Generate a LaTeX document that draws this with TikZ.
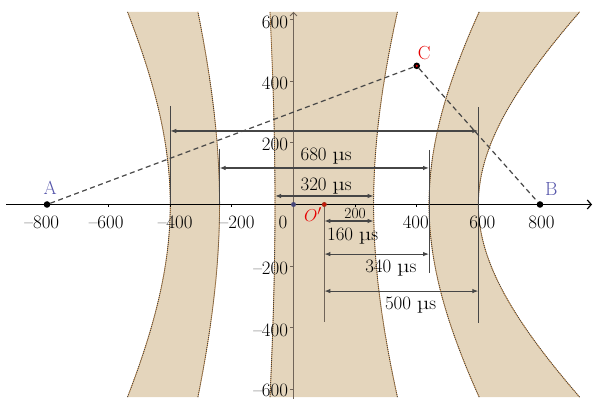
\documentclass[tikz,border=0pt]{standalone}
\usepackage{fontspec}
\usepackage{graphicx}
\usetikzlibrary{arrows.meta}
\definecolor{bandfill}{RGB}{228,213,188}
\definecolor{bandedge}{RGB}{215,150,75}
\definecolor{dimcol}{RGB}{70,70,70}
\definecolor{ptblue}{RGB}{85,85,170}
\definecolor{ptred}{RGB}{230,0,0}
\definecolor{yaxcol}{RGB}{112,100,88}
\definecolor{odot}{RGB}{70,70,120}
\definecolor{opdot}{RGB}{170,40,20}
\newcommand\musec{\scalebox{1.3}[1]{µ}s}
\begin{document}
\begin{tikzpicture}[x=30.81bp,y=30.81bp,
  hyp/.style={variable=\t, samples=70, smooth},
  up/.style={hyp, domain=-6.25:6.25},
  down/.style={hyp, domain=6.25:-6.25},
  ticklab/.style={font=\fontsize{19}{22}\selectfont, inner sep=0pt},
  dimlab/.style={font=\fontsize{19}{22}\selectfont, inner sep=0pt, anchor=base},
  dimline/.style={draw=dimcol, line width=1.1bp},
  dimarrow/.style={dimline, {Latex[length=6bp,width=4.5bp]}-{Latex[length=6bp,width=4.5bp]}},
  bandedgeA/.style={draw=bandedge, line width=0.7bp},
  bandedgeB/.style={draw=black!75, line width=0.9bp, dash pattern=on 0.9bp off 1.1bp},
  dashline/.style={draw=dimcol, line width=1.2bp, dash pattern=on 5bp off 3.5bp},
  pt/.style={circle, inner sep=0pt, minimum size=6.6bp, fill=black},
  smallpt/.style={circle, inner sep=0pt, minimum size=5bp}]
\useasboundingbox (-9.526,-6.313) rectangle (9.753,6.637);

% ---- bands (hyperbola branches, foci at -800 and 800) ----
\fill[bandfill] plot[up] ({-4*sqrt(1+\t*\t/48)},\t) -- plot[down] ({-2.4*sqrt(1+\t*\t/58.24)},\t) -- cycle;
\fill[bandfill] plot[up] ({-0.6*sqrt(1+\t*\t/63.64)},\t) -- plot[down] ({2.6*sqrt(1+\t*\t/57.24)},\t) -- cycle;
\fill[bandfill] plot[up] ({4.4*sqrt(1+\t*\t/44.64)},\t) -- plot[down] ({6*sqrt(1+\t*\t/28)},\t) -- cycle;
\foreach \a/\bb in {-4/48,-2.4/58.24,-0.6/63.64,2.6/57.24,4.4/44.64,6/28}{
  \draw[bandedgeA] plot[up] ({\a*sqrt(1+\t*\t/\bb)},\t);
  \draw[bandedgeB] plot[up] ({\a*sqrt(1+\t*\t/\bb)},\t);
}

% ---- axes ----
\coordinate (xs) at (-9.33,0);
\coordinate (xe) at (9.69,0);
\coordinate (ys) at (0,-6.32);
\coordinate (ye) at (0,6.25);
\draw[yaxcol, line width=0.8bp, -{Straight Barb[length=3.5bp,width=7bp]}] (ys) -- (ye);
\draw[black, line width=1.2bp, -{Straight Barb[length=4bp,width=9bp]}] (xs) -- (xe);
\foreach \v in {-8,-6,-4,-2,2,4,6,8}{\draw[black, line width=0.9bp] (\v,0) -- (\v,-0.08);}
\foreach \v in {-6,-4,-2,2,4,6}{\draw[yaxcol, line width=0.8bp] (0,\v) -- (-0.1,\v);}

% x tick labels
\node[ticklab, anchor=base] (xl1) at (-8.17,-0.77) {--800};
\node[ticklab, anchor=base] (xl2) at (-6.08,-0.77) {--600};
\node[ticklab, anchor=base] (xl3) at (-3.84,-0.77) {--400};
\node[ticklab, anchor=base] (xl4) at (-1.83,-0.77) {--200};
\node[ticklab, anchor=base] (xl5) at (-0.34,-0.77) {0};
\node[ticklab, anchor=base] (xl6) at (3.97,-0.77) {400};
\node[ticklab, anchor=base] (xl7) at (6.13,-0.77) {600};
\node[ticklab, anchor=base] (xl8) at (8.05,-0.77) {800};
\node[font=\fontsize{15.5}{18}\selectfont, inner sep=0pt, anchor=base] (xl9) at (2.0,-0.45) {200};
% y tick labels
\node[ticklab, anchor=base east] (yl1) at (-0.17,5.72) {600};
\node[ticklab, anchor=base east] (yl2) at (-0.17,3.74) {400};
\node[ticklab, anchor=base east] (yl3) at (-0.17,1.76) {200};
\node[ticklab, anchor=base east] (yl4) at (-0.17,-2.27) {--200};
\node[ticklab, anchor=base east] (yl5) at (-0.17,-4.27) {--400};
\node[ticklab, anchor=base east] (yl6) at (-0.17,-6.22) {--600};

% ---- vertical dimension lines ----
\coordinate (v1a) at (-4,3.2);   \coordinate (v1b) at (-4,0);
\coordinate (v2a) at (6,3.16);   \coordinate (v2b) at (6,-3.85);
\coordinate (v3a) at (-2.4,1.8); \coordinate (v3b) at (-2.4,0);
\coordinate (v4a) at (4.4,1.77); \coordinate (v4b) at (4.4,-2.22);
\coordinate (v5a) at (1,0);      \coordinate (v5b) at (1,-3.81);
\draw[dimline] (v1a) -- (v1b);
\draw[dimline] (v2a) -- (v2b);
\draw[dimline] (v3a) -- (v3b);
\draw[dimline] (v4a) -- (v4b);
\draw[dimline, draw=yaxcol] (v5a) -- (v5b);

% ---- horizontal dimension arrows ----
\coordinate (h1a) at (-4,2.386);   \coordinate (h1b) at (6,2.386);
\coordinate (h2a) at (-2.4,1.185); \coordinate (h2b) at (4.4,1.185);
\coordinate (h3a) at (-0.6,0.276); \coordinate (h3b) at (2.6,0.276);
\coordinate (h4a) at (1,-0.535);   \coordinate (h4b) at (2.6,-0.535);
\coordinate (h5a) at (1,-1.61);    \coordinate (h5b) at (4.4,-1.61);
\coordinate (h6a) at (1,-2.81);    \coordinate (h6b) at (6,-2.81);
\draw[dimarrow] (h1a) -- (h1b);
\draw[dimarrow] (h2a) -- (h2b);
\draw[dimarrow] (h3a) -- (h3b);
\draw[dimarrow] (h4a) -- (h4b);
\draw[dimarrow] (h5a) -- (h5b);
\draw[dimarrow] (h6a) -- (h6b);

\node[dimlab] (t680) at (1.06,1.42) {680 \musec};
\node[dimlab] (t320) at (1.06,0.47) {320 \musec};
\node[dimlab] (t160) at (1.92,-1.18) {160 \musec};
\node[dimlab] (t340) at (3.16,-2.22) {340 \musec};
\node[dimlab] (t500) at (3.80,-3.42) {500 \musec};

% ---- points ----
\node[pt] (A) at (-8,0) {};
\node[pt] (B) at (8,0) {};
\node[pt] (C) at (4,4.5) {};
\fill[ptred] (C) circle (1.2bp);
\node[smallpt, fill=odot] (O) at (0,0) {};
\node[smallpt, fill=opdot] (Op) at (1,0) {};
\fill[ptred] (Op) circle (1bp);
\draw[dashline] (A) -- (C) -- (B);

\node[ticklab, text=ptblue] (lA) at (-7.9,0.53) {A};
\node[ticklab, text=ptblue] (lB) at (8.37,0.5) {B};
\node[ticklab, text=ptred] (lC) at (4.24,4.91) {C};
\node[ticklab, text=ptred, anchor=base] (lOp) at (0.63,-0.56) {$O'$};
\end{tikzpicture}
\end{document}
